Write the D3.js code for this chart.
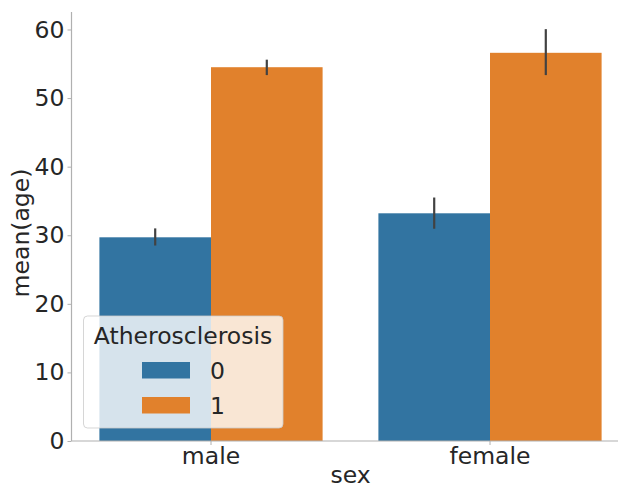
<!DOCTYPE html>
<html><head><meta charset="utf-8">
<script src="https://cdn.jsdelivr.net/npm/d3@7"></script>
<style>body{margin:0;background:#fff}svg{display:block}text{font-family:"DejaVu Sans",sans-serif;fill:#262626}</style>
</head><body><svg id="c" width="618" height="489"></svg>
<script>
const categories = ["male", "female"];
const hues = ["0", "1"];
const means = { "0": [29.7, 33.2], "1": [54.5, 56.6] };
const ciLow = { "0": [28.5, 30.95], "1": [53.35, 53.35] };
const ciHigh = { "0": [31.0, 35.5], "1": [55.6, 60.05] };
const yTicks = [0, 10, 20, 30, 40, 50, 60];
const colors = ["#3274a1", "#e1812c"];

const FS = 23.5;
const svg = d3.select("#c");
const L = 71.5, R = 629.5, T = 12, B = 441;
const x = d3.scaleBand().domain(categories).range([L, R]).paddingInner(0).paddingOuter(0);
const xh = d3.scaleBand().domain(hues).range([0, x.bandwidth() * 0.8]);
const y = d3.scaleLinear().domain([0, 62.55]).range([B, T]);

// bars
hues.forEach((h, hi) => {
  categories.forEach((c, ci) => {
    const x0 = x(c) + x.bandwidth() * 0.1 + xh(h);
    svg.append("rect").attr("x", x0).attr("y", y(means[h][ci]))
      .attr("width", xh.bandwidth()).attr("height", y(0) - y(means[h][ci]))
      .attr("fill", colors[hi]);
    svg.append("line").attr("x1", x0 + xh.bandwidth() / 2).attr("x2", x0 + xh.bandwidth() / 2)
      .attr("y1", y(ciLow[h][ci])).attr("y2", y(ciHigh[h][ci]))
      .attr("stroke", "#424242").attr("stroke-width", 2.2);
  });
});

// axes
const ya = svg.append("g").attr("transform", `translate(${L},0)`)
  .call(d3.axisLeft(y).tickValues(yTicks).tickSize(4).tickPadding(3));
ya.select(".domain").attr("stroke", "#b0b0b0").attr("stroke-width", 1.2).attr("d", `M-0,${T}V${B}`);
ya.selectAll(".tick line").attr("stroke", "#b0b0b0");
ya.selectAll(".tick text").attr("font-size", FS).attr("font-family", "DejaVu Sans").attr("fill", "#262626");

const xa = svg.append("g").attr("transform", `translate(0,${B})`)
  .call(d3.axisBottom(x).tickSize(4).tickPadding(2));
xa.select(".domain").attr("stroke", "#b0b0b0").attr("stroke-width", 1.2).attr("d", `M${L},0H${R}`);
xa.selectAll(".tick line").attr("stroke", "#b0b0b0");
xa.selectAll(".tick text").attr("font-size", FS).attr("font-family", "DejaVu Sans").attr("fill", "#262626");

svg.append("text").attr("x", (L + R) / 2).attr("y", 483).attr("text-anchor", "middle")
  .attr("font-size", FS).text("sex");
svg.append("text").attr("transform", `translate(29,233) rotate(-90)`)
  .attr("text-anchor", "middle").attr("font-size", FS).text("mean(age)");

// legend
const lg = svg.append("g");
lg.append("rect").attr("x", 83.5).attr("y", 316).attr("width", 199.5).attr("height", 112).attr("rx", 4)
  .attr("fill", "#fff").attr("fill-opacity", 0.8).attr("stroke", "#cccccc").attr("stroke-opacity", 0.8);
lg.append("text").attr("x", 183).attr("y", 343.5).attr("text-anchor", "middle").attr("font-size", FS).text("Atherosclerosis");
hues.forEach((h, i) => {
  const top = 362 + i * 35;
  lg.append("rect").attr("x", 142).attr("y", top).attr("width", 48).attr("height", 16.5).attr("fill", colors[i]);
  lg.append("text").attr("x", 210).attr("y", top + 17).attr("font-size", FS).text(h);
});
</script></body></html>
